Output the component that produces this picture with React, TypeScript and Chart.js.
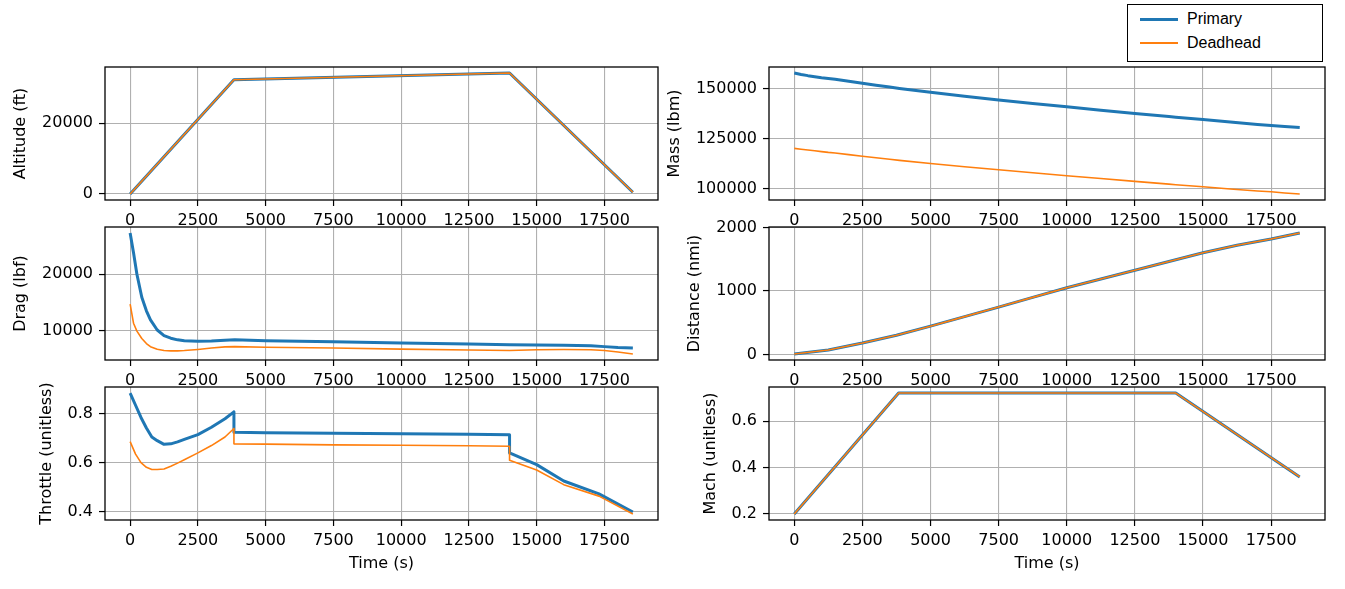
import React, { useEffect, useRef } from 'react';
import { Chart, registerables } from 'chart.js';

Chart.register(...registerables);

// ---------------- data ----------------
const timeTicks = [0, 2500, 5000, 7500, 10000, 12500, 15000, 17500];
const timeMin = -927.5;
const timeMax = 19477.5;

// Altitude (ft)
const altTime = [0, 3830, 14000, 18550];
const altPrimary = [0, 32300, 34200, 480];
const altDeadhead = [0, 32300, 34200, 480];
const altTicks = [0, 20000];

// Mass (lbm)
const massTime = [0, 250, 500, 750, 1000, 1250, 1500, 2000, 2500, 3000, 3500, 3860, 5000, 6250, 7500, 8750, 10000, 11250, 12500, 13750, 14000, 15000, 16000, 17000, 17500, 18000, 18550];
const massPrimary = [157700, 157000, 156400, 155900, 155400, 155000, 154600, 153600, 152600, 151600, 150700, 150000, 148100, 146100, 144200, 142500, 140800, 139100, 137500, 135900, 135600, 134400, 133200, 132000, 131500, 131000, 130500];
const massDeadhead = [120000, 119600, 119200, 118800, 118400, 118000, 117700, 116900, 116100, 115300, 114600, 114000, 112400, 110800, 109300, 107800, 106300, 104900, 103500, 102100, 101800, 100800, 99700, 98700, 98300, 97700, 97200];
const massTicks = [100000, 125000, 150000];

// Drag (lbf)
const dragTime = [0, 125, 250, 430, 600, 750, 1000, 1250, 1500, 1750, 2000, 2500, 3000, 3500, 3860, 5000, 7500, 10000, 12500, 14000, 15000, 16000, 17000, 17500, 18000, 18550];
const dragPrimary = [27300, 23800, 20000, 15900, 13500, 11900, 10100, 9100, 8650, 8350, 8200, 8100, 8150, 8300, 8350, 8200, 8000, 7800, 7600, 7500, 7450, 7400, 7300, 7150, 7000, 6900];
const dragDeadhead = [14700, 11300, 9900, 8600, 7700, 7150, 6700, 6450, 6400, 6400, 6450, 6650, 6900, 7100, 7150, 7050, 6900, 6700, 6550, 6450, 6600, 6650, 6600, 6450, 6200, 5850];
const dragTicks = [10000, 20000];

// Distance (nmi)
const distTime = [0, 1250, 2500, 3750, 5000, 6250, 7500, 8750, 10000, 11250, 12500, 13750, 15000, 16250, 17500, 18550];
const distPrimary = [10, 72, 182, 305, 447, 597, 747, 900, 1052, 1190, 1326, 1465, 1603, 1720, 1818, 1912];
const distDeadhead = [10, 72, 182, 305, 447, 597, 747, 900, 1052, 1190, 1326, 1465, 1603, 1720, 1818, 1912];
const distTicks = [0, 1000, 2000];

// Throttle (unitless)
const thrTime = [0, 200, 400, 600, 800, 1000, 1250, 1500, 1750, 2000, 2500, 3000, 3500, 3830, 3830, 5000, 7500, 10000, 12500, 14000, 14000, 15000, 16000, 17300, 18550];
const thrPrimary = [0.885, 0.835, 0.785, 0.742, 0.705, 0.69, 0.675, 0.677, 0.685, 0.695, 0.715, 0.745, 0.78, 0.808, 0.724, 0.722, 0.72, 0.718, 0.716, 0.714, 0.64, 0.592, 0.525, 0.472, 0.398];
const thrDeadhead = [0.686, 0.635, 0.6, 0.581, 0.572, 0.572, 0.574, 0.585, 0.598, 0.612, 0.64, 0.67, 0.705, 0.74, 0.677, 0.676, 0.673, 0.671, 0.669, 0.667, 0.61, 0.57, 0.51, 0.463, 0.39];
const thrTicks = [0.4, 0.6, 0.8];

// Mach (unitless)
const machTime = [0, 3830, 14000, 18550];
const machPrimary = [0.2, 0.722, 0.722, 0.36];
const machDeadhead = [0.2, 0.722, 0.722, 0.36];
const machTicks = [0.2, 0.4, 0.6];

// ---------------- layout / style ----------------
const W = 1345;
const H = 589;
const BLUE = '#1f77b4';
const ORANGE = '#ff7f0e';
const FONT = "'DejaVu Sans', sans-serif";
const FS = 16;
const LH = FS * 1.2;

const rows = [[67, 200], [227, 360], [387, 520]];
const cols = [[105, 658], [769, 1325]];

type Spec = {
  t: number[];
  p: number[];
  d: number[];
  ticks: number[];
  title: string;
  row: number;
  col: number;
  titleX: number;
  xTitle?: string;
};

const specs: Spec[] = [
  { t: altTime, p: altPrimary, d: altDeadhead, ticks: altTicks, title: 'Altitude (ft)', row: 0, col: 0, titleX: 21 },
  { t: massTime, p: massPrimary, d: massDeadhead, ticks: massTicks, title: 'Mass (lbm)', row: 0, col: 1, titleX: 675 },
  { t: dragTime, p: dragPrimary, d: dragDeadhead, ticks: dragTicks, title: 'Drag (lbf)', row: 1, col: 0, titleX: 21 },
  { t: distTime, p: distPrimary, d: distDeadhead, ticks: distTicks, title: 'Distance (nmi)', row: 1, col: 1, titleX: 695 },
  { t: thrTime, p: thrPrimary, d: thrDeadhead, ticks: thrTicks, title: 'Throttle (unitless)', row: 2, col: 0, titleX: 47, xTitle: 'Time (s)' },
  { t: machTime, p: machPrimary, d: machDeadhead, ticks: machTicks, title: 'Mach (unitless)', row: 2, col: 1, titleX: 711, xTitle: 'Time (s)' },
];

function zip(xs: number[], ys: number[]) {
  return xs.map((x, i) => ({ x, y: ys[i] }));
}

function paddedRange(a: number[], b: number[]) {
  const all = a.concat(b);
  const lo = Math.min(...all);
  const hi = Math.max(...all);
  const m = (hi - lo) * 0.05;
  return [lo - m, hi + m];
}

const framePlugin = {
  id: 'frame',
  afterDatasetsDraw(chart: any) {
    const { ctx, chartArea: a } = chart;
    ctx.save();
    ctx.strokeStyle = '#000';
    ctx.lineWidth = 1.3;
    ctx.strokeRect(a.left, a.top, a.right - a.left, a.bottom - a.top);
    ctx.restore();
  },
};

function zeroPad(s: any) {
  s.paddingLeft = 0;
  s.paddingRight = 0;
  s.paddingTop = 0;
  s.paddingBottom = 0;
}

function buildConfig(s: Spec): any {
  const [top, bottom] = rows[s.row];
  const [left, right] = cols[s.col];
  const padLeft = s.titleX - LH / 2;
  const yWidth = left - padLeft;
  let xHeight: number;
  let padBottom: number;
  if (s.xTitle) {
    const scaleBottom = 564 + LH / 2;
    padBottom = H - scaleBottom;
    xHeight = scaleBottom - bottom;
  } else {
    xHeight = 30;
    padBottom = H - bottom - xHeight;
  }
  const [ymin, ymax] = paddedRange(s.p, s.d);
  const grid = {
    color: '#b0b0b0',
    lineWidth: 1.1,
    tickColor: '#000',
    tickLength: 6,
    tickWidth: 1.2,
    drawTicks: true,
  };
  return {
    type: 'line',
    data: {
      datasets: [
        {
          label: 'Primary',
          data: zip(s.t, s.p),
          borderColor: BLUE,
          backgroundColor: BLUE,
          borderWidth: 3,
          pointRadius: 0,
          tension: 0,
          fill: false,
          borderJoinStyle: 'round',
          order: 2,
        },
        {
          label: 'Deadhead',
          data: zip(s.t, s.d),
          borderColor: ORANGE,
          backgroundColor: ORANGE,
          borderWidth: 1.6,
          pointRadius: 0,
          tension: 0,
          fill: false,
          borderJoinStyle: 'round',
          order: 1,
        },
      ],
    },
    options: {
      responsive: false,
      animation: false,
      events: [],
      layout: {
        padding: { left: padLeft, top: top, right: W - right, bottom: padBottom },
      },
      plugins: {
        legend: { display: false },
        tooltip: { enabled: false },
        title: { display: false },
      },
      scales: {
        x: {
          type: 'linear',
          min: timeMin,
          max: timeMax,
          afterBuildTicks: (ax: any) => {
            ax.ticks = timeTicks.map((v) => ({ value: v }));
          },
          afterFit: (ax: any) => {
            ax.height = xHeight;
            zeroPad(ax);
          },
          grid,
          border: { display: false },
          ticks: {
            autoSkip: false,
            maxRotation: 0,
            minRotation: 0,
            padding: 5.5,
            color: '#000',
            font: { family: FONT, size: FS },
            callback: (v: number) => String(v),
          },
          title: s.xTitle
            ? { display: true, text: s.xTitle, color: '#000', font: { family: FONT, size: FS }, padding: 0 }
            : { display: false },
        },
        y: {
          type: 'linear',
          min: ymin,
          max: ymax,
          afterBuildTicks: (ax: any) => {
            ax.ticks = s.ticks.map((v) => ({ value: v }));
          },
          afterFit: (ax: any) => {
            ax.width = yWidth;
            zeroPad(ax);
          },
          grid,
          border: { display: false },
          ticks: {
            autoSkip: false,
            padding: 6,
            color: '#000',
            font: { family: FONT, size: FS },
            callback: (v: number) => String(v),
          },
          title: { display: true, text: s.title, color: '#000', font: { family: FONT, size: FS }, padding: 0 },
        },
      },
    },
    plugins: [framePlugin],
  };
}

function Panel({ spec }: { spec: Spec }) {
  const ref = useRef<HTMLCanvasElement | null>(null);
  useEffect(() => {
    const chart = new Chart(ref.current as HTMLCanvasElement, buildConfig(spec));
    return () => chart.destroy();
  }, [spec]);
  return (
    <canvas
      ref={ref}
      width={W}
      height={H}
      style={{ position: 'absolute', left: 0, top: 0, width: W, height: H }}
    />
  );
}

function Legend() {
  const legendFont = "'Liberation Sans', Arial, sans-serif";
  const row = (label: string, color: string, lw: number, cy: number) => (
    <>
      <div
        style={{
          position: 'absolute',
          left: 12,
          top: cy - lw / 2,
          width: 38,
          height: lw,
          background: color,
        }}
      />
      <div
        style={{
          position: 'absolute',
          left: 59,
          top: cy - 10,
          height: 20,
          lineHeight: '20px',
          fontSize: 16,
          fontFamily: legendFont,
          color: '#000',
          whiteSpace: 'nowrap',
        }}
      >
        {label}
      </div>
    </>
  );
  return (
    <div
      style={{
        position: 'absolute',
        left: 1127,
        top: 4,
        width: 196,
        height: 58,
        border: '1px solid #000',
        boxSizing: 'border-box',
        background: '#fff',
      }}
    >
      {row('Primary', BLUE, 3, 14)}
      {row('Deadhead', ORANGE, 1.6, 38)}
    </div>
  );
}

export default function App() {
  return (
    <div
      style={{
        position: 'absolute',
        left: 0,
        top: 0,
        width: W,
        height: H,
        background: '#fff',
        overflow: 'hidden',
      }}
    >
      {specs.map((s, i) => (
        <Panel key={i} spec={s} />
      ))}
      <Legend />
    </div>
  );
}
